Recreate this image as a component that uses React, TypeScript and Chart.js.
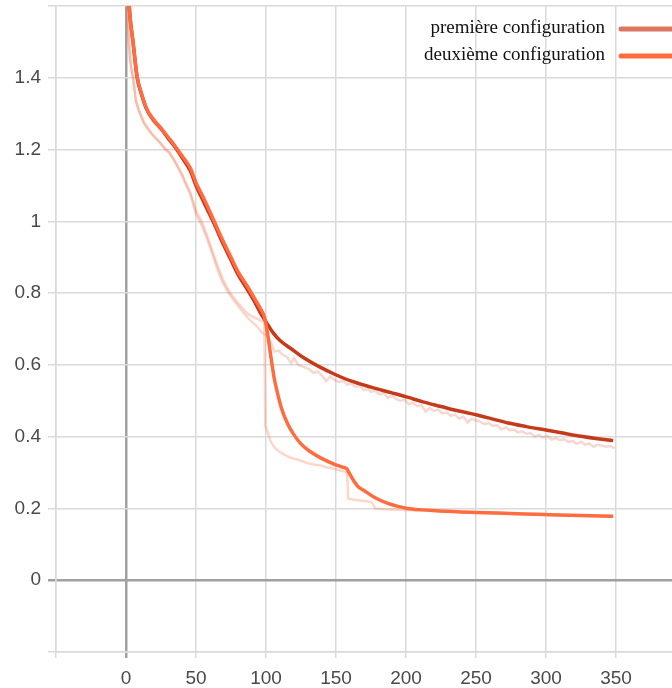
import React, { useEffect, useRef } from "react";
import { Chart, registerables } from "chart.js";

Chart.register(...registerables);

const seriesNames = ["première configuration", "deuxième configuration"];
const legendColors = ["#dc7660", "#ff6d3f"];
const lineColors = ["#c63a1c", "#ff6c40"];
const rawColors = ["rgba(214,90,60,0.24)", "rgba(255,120,80,0.3)"];

const yTickHidden = [-0.2, 1.6];
const xTickHidden = [-50];

// Smoothed series: première configuration
const smooth1X = [0, 1, 2, 3, 5, 8, 11, 15, 20, 25, 30, 35, 40, 46, 50, 56, 63, 69, 75, 80, 87, 92, 96, 100, 105, 110, 118, 125, 139, 149, 160, 175, 190, 201, 212, 225, 237, 250, 262, 273, 286, 299, 312, 325, 337, 348];
const smooth1Y = [1.95, 1.72, 1.62, 1.565, 1.5, 1.4, 1.355, 1.31, 1.28, 1.258, 1.232, 1.207, 1.178, 1.14, 1.1, 1.05, 0.993, 0.94, 0.892, 0.852, 0.808, 0.775, 0.745, 0.72, 0.69, 0.668, 0.645, 0.625, 0.593, 0.574, 0.556, 0.538, 0.522, 0.51, 0.497, 0.484, 0.472, 0.461, 0.449, 0.438, 0.428, 0.419, 0.41, 0.401, 0.394, 0.389];

// Smoothed series: deuxième configuration
const smooth2X = [0, 1, 2, 3, 5, 8, 11, 15, 20, 25, 30, 35, 40, 46, 50, 56, 63, 69, 75, 80, 87, 92, 96, 99, 101, 103.6, 106, 108, 111, 115.5, 120, 125, 131, 139, 149, 154, 157.5, 160, 163, 166, 170, 177, 187, 195, 201, 212, 224, 250, 275, 299, 325, 348];
const smooth2Y = [1.95, 1.72, 1.62, 1.565, 1.5, 1.402, 1.357, 1.312, 1.282, 1.26, 1.235, 1.21, 1.183, 1.148, 1.108, 1.06, 1.0, 0.948, 0.9, 0.86, 0.817, 0.784, 0.757, 0.732, 0.69, 0.62, 0.56, 0.525, 0.48, 0.435, 0.405, 0.38, 0.36, 0.341, 0.323, 0.316, 0.311, 0.295, 0.275, 0.26, 0.25, 0.232, 0.214, 0.205, 0.2, 0.196, 0.193, 0.189, 0.186, 0.183, 0.18, 0.178];

// Raw (unsmoothed) series: première configuration
const raw1X = [0, 1, 2, 3, 4, 5, 6, 7, 9, 11, 13, 16, 19, 22, 25, 28, 31, 34, 37, 40, 43, 46, 50, 54, 58, 61, 65, 69, 72.6, 76, 80, 84, 87, 90, 94, 97, 100, 103, 106, 109, 112, 115, 118, 120, 123, 126, 130, 134, 137, 140, 143, 146, 149, 152, 155, 158, 161, 164, 167, 170, 173, 175, 178, 181, 184, 187, 190, 193, 196, 199, 202, 205, 208, 211, 214, 217, 220, 223, 226, 229, 232, 235, 238, 241, 244, 247, 250, 253, 256, 259, 262, 265, 268, 271, 274, 277, 280, 283, 286, 289, 292, 295, 298, 301, 304, 307, 310, 313, 316, 319, 322, 325, 328, 331, 334, 337, 340, 343, 346, 349];
const raw1Y = [1.75, 1.58, 1.5, 1.45, 1.42, 1.4, 1.37, 1.337, 1.31, 1.29, 1.272, 1.255, 1.24, 1.228, 1.215, 1.2, 1.19, 1.172, 1.15, 1.128, 1.1, 1.075, 1.02, 0.99, 0.95, 0.917, 0.87, 0.83, 0.805, 0.785, 0.765, 0.745, 0.731, 0.72, 0.705, 0.69, 0.683, 0.668, 0.637, 0.64, 0.628, 0.622, 0.605, 0.619, 0.6, 0.595, 0.59, 0.578, 0.582, 0.57, 0.555, 0.568, 0.558, 0.552, 0.556, 0.545, 0.548, 0.538, 0.542, 0.53, 0.532, 0.525, 0.528, 0.518, 0.522, 0.508, 0.514, 0.505, 0.5, 0.503, 0.49, 0.495, 0.485, 0.488, 0.47, 0.48, 0.472, 0.476, 0.465, 0.468, 0.458, 0.462, 0.45, 0.456, 0.44, 0.45, 0.445, 0.442, 0.435, 0.438, 0.43, 0.432, 0.42, 0.426, 0.418, 0.42, 0.412, 0.415, 0.408, 0.41, 0.4, 0.405, 0.398, 0.402, 0.392, 0.396, 0.39, 0.393, 0.385, 0.388, 0.38, 0.386, 0.378, 0.381, 0.372, 0.378, 0.375, 0.372, 0.374, 0.368];

// Raw (unsmoothed) series: deuxième configuration
const raw2X = [0, 1, 2, 3, 4, 5, 6, 7, 9, 11, 13, 16, 19, 22, 25, 28, 31, 34, 37, 40, 43, 46, 50, 54, 58, 61, 65, 69, 72.6, 76, 80, 84, 87, 90, 94, 97, 98.8, 99.5, 101, 103.6, 106, 109, 113, 117, 121, 125, 130, 135, 139, 143, 147, 151, 156, 158, 158.7, 162, 167, 172, 175, 177, 178, 185, 200, 225, 250, 275, 300, 325, 348];
const raw2Y = [1.75, 1.58, 1.5, 1.45, 1.42, 1.4, 1.37, 1.337, 1.312, 1.292, 1.274, 1.257, 1.242, 1.23, 1.217, 1.203, 1.192, 1.175, 1.153, 1.132, 1.105, 1.08, 1.03, 1.0, 0.96, 0.925, 0.88, 0.84, 0.812, 0.792, 0.772, 0.755, 0.742, 0.735, 0.728, 0.722, 0.72, 0.43, 0.414, 0.385, 0.37, 0.36, 0.35, 0.342, 0.338, 0.333, 0.326, 0.322, 0.32, 0.315, 0.312, 0.308, 0.303, 0.3, 0.228, 0.225, 0.222, 0.22, 0.218, 0.208, 0.2, 0.198, 0.196, 0.192, 0.188, 0.185, 0.182, 0.179, 0.177];

const toPoints = (xs: number[], ys: number[]) => xs.map((x, i) => ({ x, y: ys[i] }));

const near = (v: number, arr: number[]) => arr.some((a) => Math.abs(a - v) < 1e-6);

const legendPlugin = {
  id: "cornerLegend",
  afterDraw(chart: any) {
    const ctx = chart.ctx;
    ctx.save();
    ctx.font = '19px "Liberation Serif", "Times New Roman", serif';
    ctx.textAlign = "right";
    ctx.textBaseline = "middle";
    const rows = [28, 55];
    seriesNames.forEach((name, i) => {
      ctx.fillStyle = "#111";
      ctx.fillText(name, 605, rows[i]);
      ctx.strokeStyle = legendColors[i];
      ctx.lineWidth = 5;
      ctx.lineCap = "round";
      ctx.beginPath();
      ctx.moveTo(621, rows[i] + 1);
      ctx.lineTo(690, rows[i] + 1);
      ctx.stroke();
    });
    ctx.restore();
  },
};

export default function App() {
  const canvasRef = useRef<HTMLCanvasElement>(null);

  useEffect(() => {
    if (!canvasRef.current) return;
    const gridColor = (c: any) =>
      c.tick && Math.abs(c.tick.value) < 1e-9 ? "#a0a0a0" : "#dadada";
    const gridWidth = (c: any) =>
      c.tick && Math.abs(c.tick.value) < 1e-9 ? 2.5 : 1.5;

    const chart = new Chart(canvasRef.current, {
      type: "line",
      data: {
        datasets: [
          {
            label: seriesNames[1],
            data: toPoints(smooth2X, smooth2Y),
            borderColor: lineColors[1],
            borderWidth: 3.5,
            pointRadius: 0,
            cubicInterpolationMode: "monotone",
            order: 0,
          },
          {
            label: seriesNames[0],
            data: toPoints(smooth1X, smooth1Y),
            borderColor: lineColors[0],
            borderWidth: 3.5,
            pointRadius: 0,
            cubicInterpolationMode: "monotone",
            order: 1,
          },
          {
            label: seriesNames[1] + " (brut)",
            data: toPoints(raw2X, raw2Y),
            borderColor: rawColors[1],
            borderWidth: 2.5,
            pointRadius: 0,
            tension: 0,
            order: 2,
          },
          {
            label: seriesNames[0] + " (brut)",
            data: toPoints(raw1X, raw1Y),
            borderColor: rawColors[0],
            borderWidth: 2.5,
            pointRadius: 0,
            tension: 0,
            order: 3,
          },
        ],
      },
      options: {
        animation: false,
        responsive: true,
        maintainAspectRatio: false,
        layout: { padding: { top: 6, right: 0, left: 0, bottom: 0 } },
        plugins: {
          legend: { display: false },
          tooltip: { enabled: false },
        },
        scales: {
          x: {
            type: "linear",
            min: -50,
            max: 390,
            afterFit: (s: any) => {
              s.height = 48;
              s.paddingLeft = 0;
              s.paddingRight = 0;
            },
            ticks: {
              stepSize: 50,
              includeBounds: false,
              maxRotation: 0,
              autoSkip: false,
              padding: 9,
              color: "#4a4a4a",
              font: { family: "Arial, 'Liberation Sans', sans-serif", size: 19 },
              callback: (v: any) => (near(Number(v), xTickHidden) ? "" : String(v)),
            },
            grid: {
              color: gridColor,
              lineWidth: gridWidth,
              tickLength: 6,
            },
            border: { color: "#dadada", width: 1.5 },
          },
          y: {
            type: "linear",
            min: -0.2,
            max: 1.6,
            afterFit: (s: any) => {
              s.width = 56;
              s.paddingTop = 0;
              s.paddingBottom = 0;
            },
            ticks: {
              stepSize: 0.2,
              padding: 7,
              color: "#4a4a4a",
              font: { family: "Arial, 'Liberation Sans', sans-serif", size: 19 },
              callback: (v: any) => {
                const n = Number(v);
                if (near(n, yTickHidden)) return "";
                return String(Number(n.toFixed(1)));
              },
            },
            grid: {
              color: gridColor,
              lineWidth: gridWidth,
              tickLength: 8,
            },
            border: { color: "#dadada", width: 1.5 },
          },
        },
      },
      plugins: [legendPlugin],
    } as any);
    return () => chart.destroy();
  }, []);

  return (
    <div style={{ position: "fixed", left: 0, top: 0, width: 672, height: 700 }}>
      <canvas ref={canvasRef} />
    </div>
  );
}
